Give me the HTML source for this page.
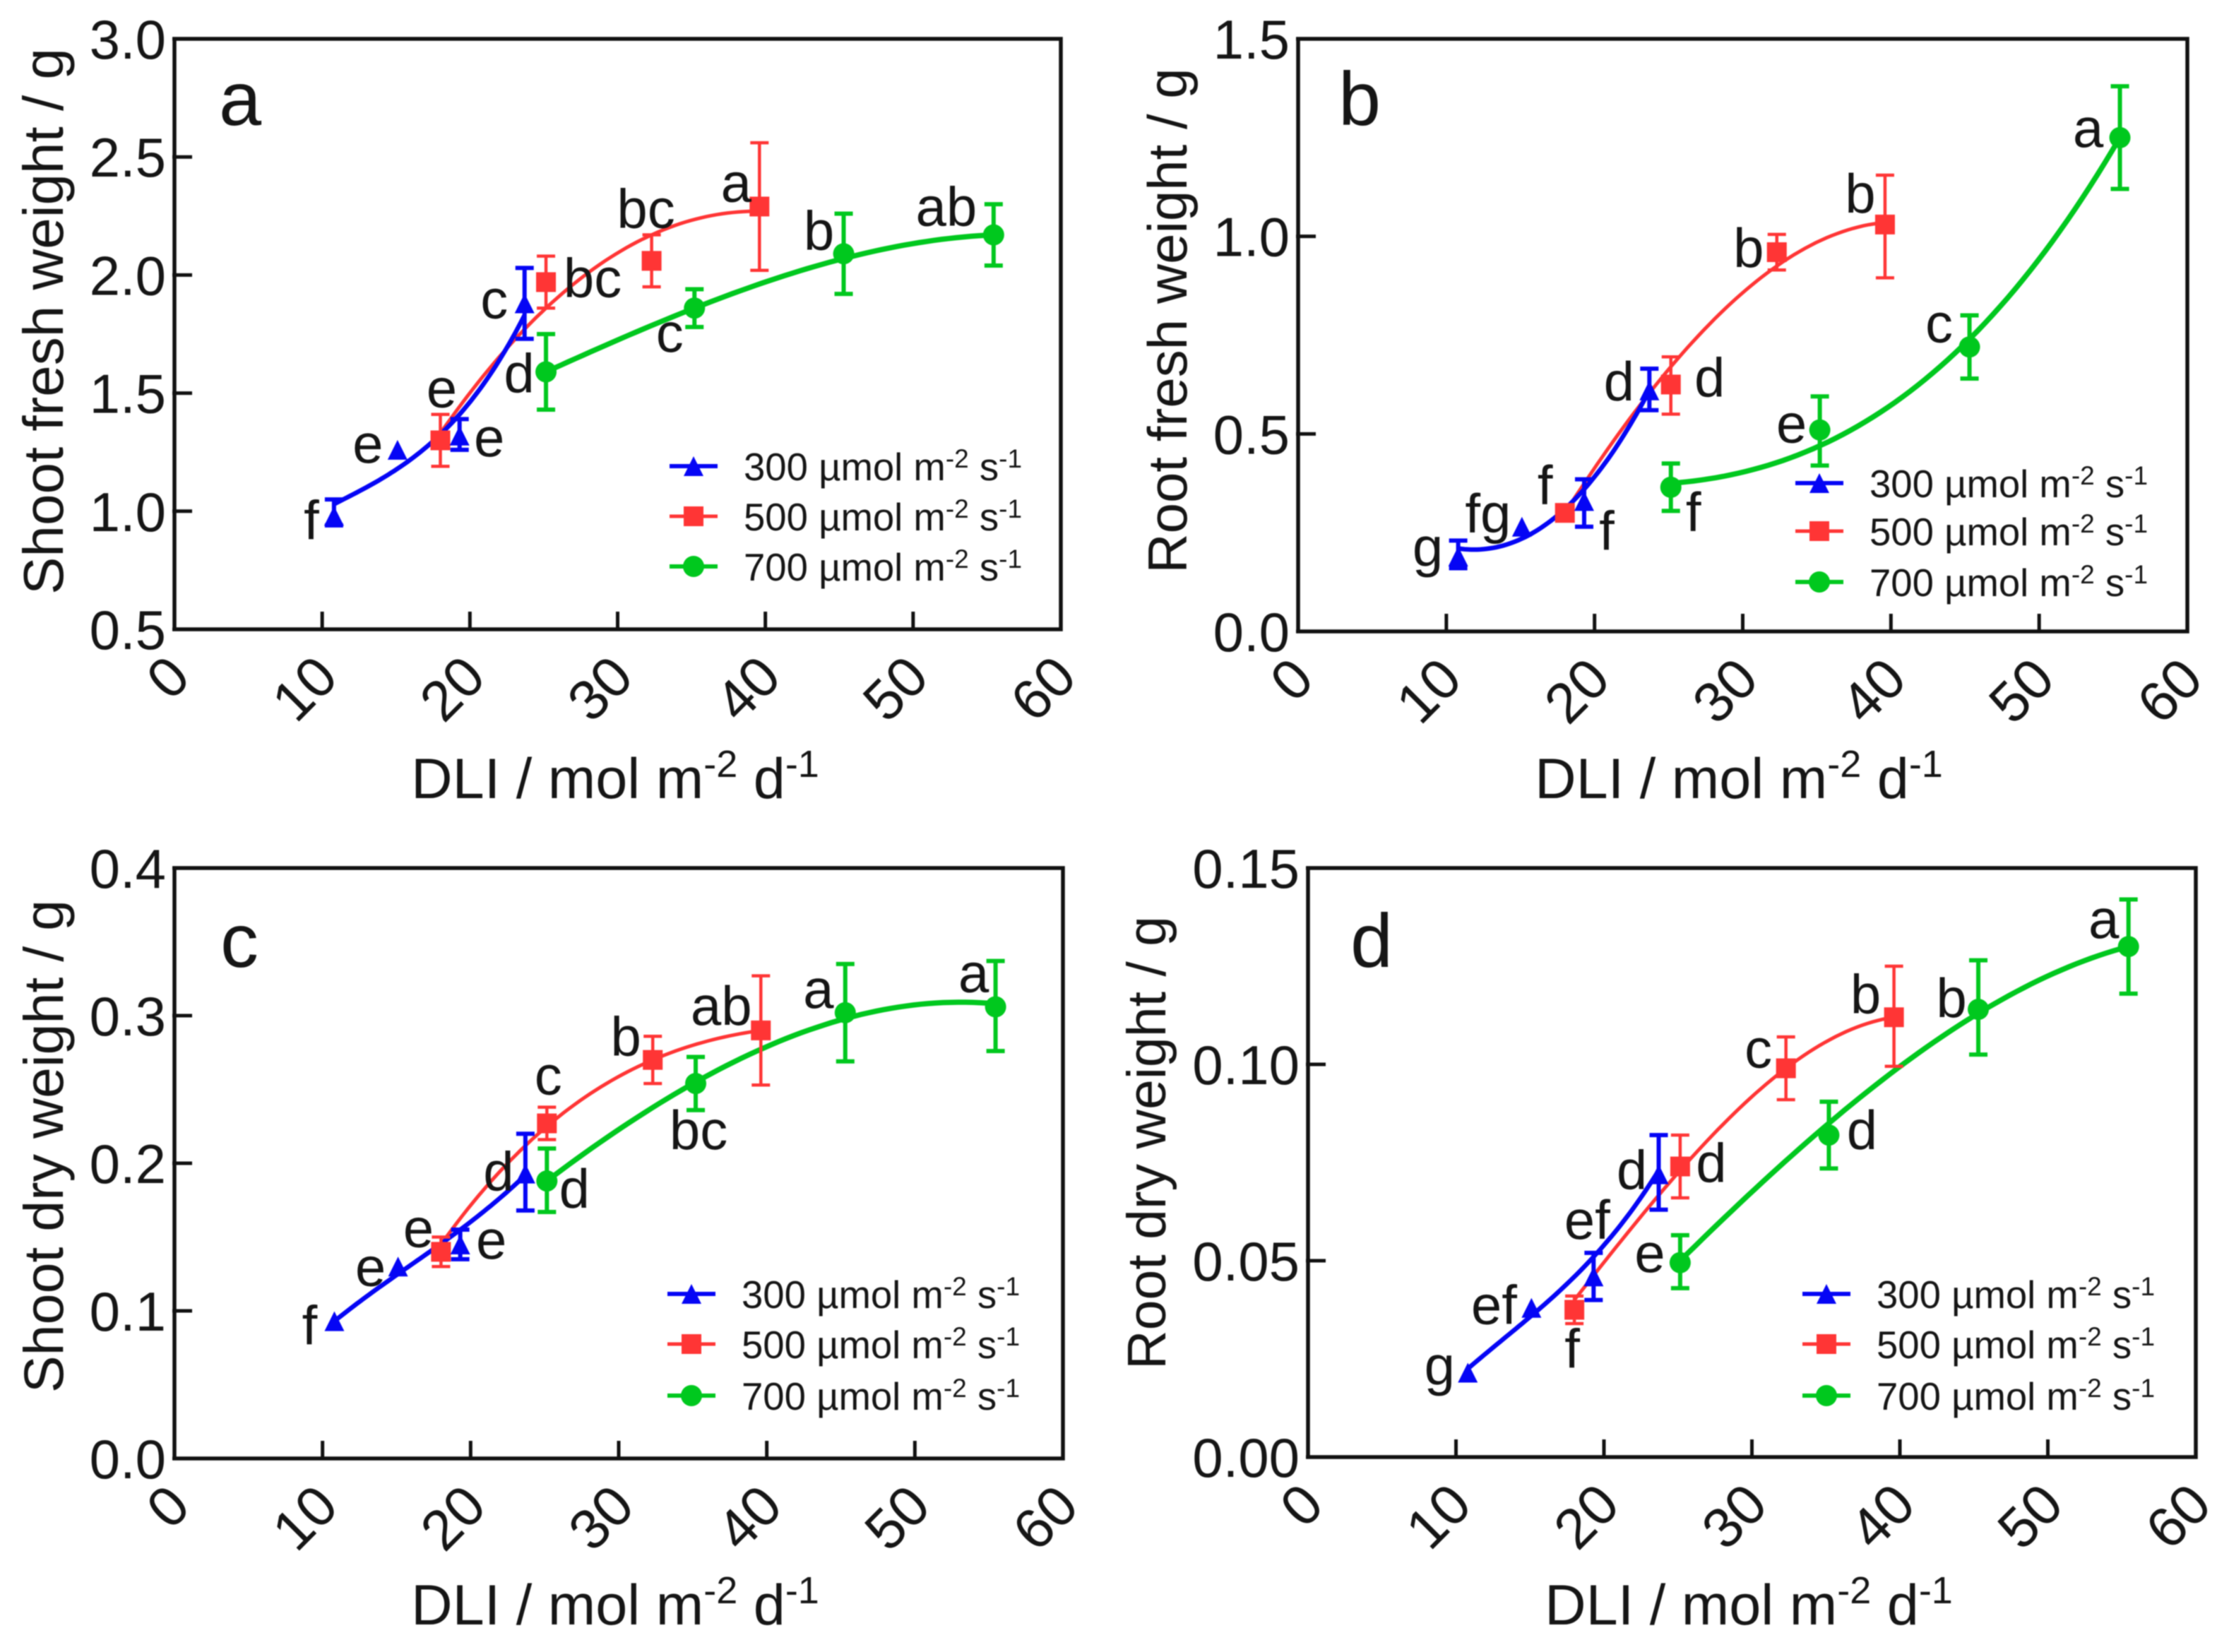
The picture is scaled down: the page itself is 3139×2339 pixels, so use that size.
<!DOCTYPE html>
<html lang="en">
<head>
<meta charset="utf-8">
<title>Fresh and dry weight versus DLI</title>
<style>
html,body{margin:0;padding:0;background:#fff;}
#figure{display:block;width:3139px;height:2339px;filter:blur(0.9px);}
text{font-family:"Liberation Sans",sans-serif;fill:#151515;}
</style>
</head>
<body>
<svg id="figure" xmlns="http://www.w3.org/2000/svg" width="3139" height="2339" viewBox="0 0 3139 2339"></svg>
<script>
// ---------- shared data ----------
const dli300 = [10.8, 15.1, 19.3, 23.7];
const dli500 = [18.0, 25.15, 32.3, 39.6];
const dli700 = [25.15, 35.2, 45.3, 55.45];
const xTickLabels = [0, 10, 20, 30, 40, 50, 60];
const seriesNames = ['300', '500', '700'];

// ---------- panel a: shoot fresh weight ----------
const aYTicks = ['0.5', '1.0', '1.5', '2.0', '2.5', '3.0'];
const a300 = [0.98, 1.26, 1.32, 1.88];
const a300High = [1.05, 1.26, 1.39, 2.03];
const a300Low = [0.94, 1.26, 1.26, 1.73];
const a300Fit = [1.03, 1.18, 1.41, 1.83];
const a300Letters = ['f', 'e', 'e', 'c'];
const a500 = [1.30, 1.97, 2.06, 2.29];
const a500High = [1.41, 2.08, 2.17, 2.56];
const a500Low = [1.19, 1.86, 1.95, 2.02];
const a500Fit = [1.33, 1.86, 2.17, 2.27];
const a500Letters = ['e', 'bc', 'bc', 'a'];
const a700 = [1.59, 1.86, 2.09, 2.17];
const a700High = [1.75, 1.94, 2.26, 2.30];
const a700Low = [1.43, 1.78, 1.92, 2.04];
const a700Fit = [1.59, 1.86, 2.07, 2.17];
const a700Letters = ['d', 'c', 'b', 'ab'];

// ---------- panel b: root fresh weight ----------
const bYTicks = ['0.0', '0.5', '1.0', '1.5'];
const b300 = [0.19, 0.265, 0.33, 0.61];
const b300High = [0.23, 0.265, 0.385, 0.665];
const b300Low = [0.16, 0.265, 0.265, 0.56];
const b300Fit = [0.21, 0.235, 0.36, 0.61];
const b300Letters = ['g', 'fg', 'f', 'd'];
const b500 = [0.30, 0.625, 0.96, 1.03];
const b500High = [0.32, 0.695, 1.005, 1.155];
const b500Low = [0.28, 0.55, 0.915, 0.895];
const b500Fit = [0.30, 0.67, 0.925, 1.035];
const b500Letters = ['f', 'd', 'b', 'b'];
const b700 = [0.365, 0.51, 0.72, 1.25];
const b700High = [0.425, 0.595, 0.80, 1.38];
const b700Low = [0.305, 0.42, 0.64, 1.12];
const b700Fit = [0.375, 0.47, 0.74, 1.25];
const b700Letters = ['f', 'e', 'c', 'a'];

// ---------- panel c: shoot dry weight ----------
const cYTicks = ['0.0', '0.1', '0.2', '0.3', '0.4'];
const c300 = [0.093, 0.13, 0.145, 0.193];
const c300High = [0.093, 0.13, 0.155, 0.22];
const c300Low = [0.093, 0.13, 0.135, 0.168];
const c300Fit = [0.093, 0.125, 0.155, 0.192];
const c300Letters = ['f', 'e', 'e', 'd'];
const c500 = [0.14, 0.227, 0.27, 0.29];
const c500High = [0.15, 0.238, 0.286, 0.327];
const c500Low = [0.13, 0.216, 0.254, 0.253];
const c500Fit = [0.145, 0.225, 0.27, 0.29];
const c500Letters = ['e', 'c', 'b', 'ab'];
const c700 = [0.188, 0.254, 0.302, 0.306];
const c700High = [0.21, 0.272, 0.335, 0.337];
const c700Low = [0.167, 0.236, 0.269, 0.276];
const c700Fit = [0.188, 0.255, 0.298, 0.308];
const c700Letters = ['d', 'bc', 'a', 'a'];

// ---------- panel d: root dry weight ----------
const dYTicks = ['0.00', '0.05', '0.10', '0.15'];
const d300 = [0.0215, 0.038, 0.046, 0.072];
const d300High = [0.0215, 0.038, 0.052, 0.082];
const d300Low = [0.0215, 0.038, 0.040, 0.063];
const d300Fit = [0.0225, 0.036, 0.051, 0.073];
const d300Letters = ['g', 'ef', 'ef', 'd'];
const d500 = [0.0375, 0.074, 0.099, 0.112];
const d500High = [0.041, 0.082, 0.107, 0.125];
const d500Low = [0.034, 0.066, 0.091, 0.0995];
const d500Fit = [0.04, 0.073, 0.099, 0.112];
const d500Letters = ['f', 'd', 'c', 'b'];
const d700 = [0.0495, 0.082, 0.114, 0.13];
const d700High = [0.0565, 0.0905, 0.1265, 0.142];
const d700Low = [0.043, 0.0735, 0.1025, 0.118];
const d700Fit = [0.05, 0.085, 0.113, 0.13];
const d700Letters = ['e', 'd', 'b', 'a'];

// ---------- layout (not data) ----------
const colors = {'300': '#0505f5', '500': '#ff3535', '700': '#00c81e'};
const panels = [
  {id: 'a', l: 247, r: 1502, t: 55, b: 891, yMin: 0.5, yMax: 3.0, ticks: aYTicks, yTitle: 'Shoot fresh weight / g',
   titleX: 89, titleY: 455, titleSize: 80, xTitleX: 871, xTitleY: 1130, letterX: 340, letterY: 177, legX: 948, legY: [660, 731, 802],
   series: {'300': [dli300, a300, a300High, a300Low, a300Fit, a300Letters], '500': [dli500, a500, a500High, a500Low, a500Fit, a500Letters], '700': [dli700, a700, a700High, a700Low, a700Fit, a700Letters]},
   offs: {'300': [[-34, 30], [-44, 15], [40, 26], [-45, 18]], '500': [[0, -50], [64, 18], [-10, -50], [-35, -10]], '700': [[-40, 26], [-37, 59], [-37, -9], [-69, -16]]}},
  {id: 'b', l: 1838, r: 3097, t: 55, b: 894, yMin: 0, yMax: 1.5, ticks: bYTicks, yTitle: 'Root fresh weight / g',
   titleX: 1680, titleY: 454, titleSize: 78, xTitleX: 2462, xTitleY: 1130, letterX: 1925, letterY: 177, legX: 2542, legY: [684, 752, 824],
   series: {'300': [dli300, b300, b300High, b300Low, b300Fit, b300Letters], '500': [dli500, b500, b500High, b500Low, b500Fit, b500Letters], '700': [dli700, b700, b700High, b700Low, b700Fit, b700Letters]},
   offs: {'300': [[-45, 11], [-50, 5], [30, 66], [-45, 11]], '500': [[-30, -15], [53, 14], [-42, 18], [-37, -20]], '700': [[30, 59], [-42, 15], [-45, -10], [-47, 10]]}},
  {id: 'c', l: 247, r: 1505, t: 1229, b: 2065, yMin: 0, yMax: 0.4, ticks: cYTicks, yTitle: 'Shoot dry weight / g',
   titleX: 89, titleY: 1623, titleSize: 79, xTitleX: 871, xTitleY: 2300, letterX: 339, letterY: 1369, legX: 945, legY: [1832, 1903, 1976],
   series: {'300': [dli300, c300, c300High, c300Low, c300Fit, c300Letters], '500': [dli500, c500, c500High, c500Low, c500Fit, c500Letters], '700': [dli700, c700, c700High, c700Low, c700Fit, c700Letters]},
   offs: {'300': [[-37, 30], [-41, 24], [42, 17], [-40, 21]], '500': [[-34, -10], [0, -44], [-40, -9], [-58, -11]], '700': [[37, 35], [2, 90], [-40, -10], [-33, -24]]}},
  {id: 'd', l: 1852, r: 3109, t: 1229, b: 2063, yMin: 0, yMax: 0.15, ticks: dYTicks, yTitle: 'Root dry weight / g',
   titleX: 1650, titleY: 1618, titleSize: 77, xTitleX: 2476, xTitleY: 2300, letterX: 1942, letterY: 1369, legX: 2552, legY: [1832, 1903, 1976],
   series: {'300': [dli300, d300, d300High, d300Low, d300Fit, d300Letters], '500': [dli500, d500, d500High, d500Low, d500Fit, d500Letters], '700': [dli700, d700, d700High, d700Low, d700Fit, d700Letters]},
   offs: {'300': [[-42, 14], [-55, 20], [-11, -56], [-40, 18]], '500': [[-5, 79], [42, 19], [-41, -4], [-42, -9]], '700': [[-45, 10], [45, 17], [-40, 8], [-37, -15]]}}
];

const NS = 'http://www.w3.org/2000/svg';
const root = document.getElementById('figure');

function mk(tag, parent, attrs) {
  const n = document.createElementNS(NS, tag);
  for (const k in attrs) n.setAttribute(k, attrs[k]);
  parent.appendChild(n);
  return n;
}
function addSup(textEl, text, size, up) {
  const s = mk('tspan', textEl, {'font-size': size, dy: -up});
  s.textContent = text;
  const after = mk('tspan', textEl, {dy: up});
  after.textContent = '\u200b';
}
function addPlain(textEl, text) {
  const s = mk('tspan', textEl, {});
  s.textContent = text;
}
// Cubic through the four fitted values
function cubicAt(xs, ys, x) {
  let total = 0;
  for (let i = 0; i < xs.length; i++) {
    let w = 1;
    for (let j = 0; j < xs.length; j++) {
      if (j !== i) w *= (x - xs[j]) / (xs[i] - xs[j]);
    }
    total += w * ys[i];
  }
  return total;
}
function drawMarker(parent, name, cx, cy, scale) {
  const c = colors[name];
  const k = scale || 1;
  let m;
  if (name === '300') {
    const w = 14 * k, h = 14 * k;
    m = mk('polygon', parent, {points: (cx) + ',' + (cy - h) + ' ' + (cx + w) + ',' + (cy + h) + ' ' + (cx - w) + ',' + (cy + h), fill: c});
  } else if (name === '500') {
    const s = 14 * k;
    m = mk('rect', parent, {x: cx - s, y: cy - s, width: 2 * s, height: 2 * s, fill: c});
  } else {
    m = mk('circle', parent, {cx: cx, cy: cy, r: 15 * k, fill: c});
  }
  return m;
}

panels.forEach(function (p) {
  const X = function (v) { return p.l + v / 60 * (p.r - p.l); };
  const Y = function (v) { return p.b - (v - p.yMin) / (p.yMax - p.yMin) * (p.b - p.t); };

  const g = mk('g', root, {});
  
  

  // fit curves
  ['500', '300', '700'].forEach(function (name) {
    const s = p.series[name];
    const xs = s[0], fit = s[4];
    let d = '';
    const n = 60;
    for (let i = 0; i <= n; i++) {
      const x = xs[0] + (xs[3] - xs[0]) * i / n;
      d += (i ? 'L' : 'M') + X(x).toFixed(1) + ' ' + Y(cubicAt(xs, fit, x)).toFixed(1);
    }
    const line = mk('path', g, {d: d, fill: 'none', stroke: colors[name], 'stroke-width': name === '500' ? 5 : (name === '700' ? 7.5 : 6.5)});
    
    
  });

  // error bars and markers
  ['500', '300', '700'].forEach(function (name) {
    const s = p.series[name];
    const xs = s[0], vals = s[1], hi = s[2], lo = s[3];
    xs.forEach(function (x, i) {
      const px = X(x);
      if (hi[i] !== lo[i]) {
        const bar = mk('path', g, {
          d: 'M' + px + ' ' + Y(hi[i]) + 'V' + Y(lo[i]) + 'M' + (px - 13) + ' ' + Y(hi[i]) + 'H' + (px + 13) + 'M' + (px - 13) + ' ' + Y(lo[i]) + 'H' + (px + 13),
          fill: 'none', stroke: colors[name], 'stroke-width': name === '500' ? 4.5 : 6
        });
        
        
      }
      const mark = drawMarker(g, name, px, Y(vals[i]));
      
      
    });
  });

  // frame
  const frame = mk('rect', g, {x: p.l, y: p.t, width: p.r - p.l, height: p.b - p.t, fill: 'none', stroke: '#111', 'stroke-width': 5.5});
  
  

  // x ticks
  xTickLabels.forEach(function (v) {
    const px = X(v);
    const tick = mk('line', g, {x1: px, x2: px, y1: p.b, y2: p.b - 25, stroke: '#111', 'stroke-width': 5});
    
    
    const ax = px + 6, ay = p.b + 52;
    const lab = mk('text', g, {x: ax, y: ay, 'font-size': 80, 'text-anchor': 'end', dy: '0.35em', transform: 'rotate(-45 ' + ax + ' ' + ay + ')'});
    
    
    lab.textContent = String(v);
  });

  // y ticks
  p.ticks.forEach(function (t) {
    const py = Y(parseFloat(t));
    const tick = mk('line', g, {x1: p.l - 3, x2: p.l + 25, y1: py, y2: py, stroke: '#111', 'stroke-width': 5});
    
    
    const lab = mk('text', g, {x: p.l - 12, y: py + 28, 'font-size': 78, 'text-anchor': 'end'});
    
    
    lab.textContent = t;
  });

  // y axis title
  const yt = mk('text', g, {x: p.titleX, y: p.titleY, 'font-size': p.titleSize, 'text-anchor': 'middle', transform: 'rotate(-90 ' + p.titleX + ' ' + p.titleY + ')'});
  
  
  yt.textContent = p.yTitle;

  // x axis title
  const xt = mk('text', g, {x: p.xTitleX, y: p.xTitleY, 'font-size': 81, 'text-anchor': 'middle'});
  
  
  addPlain(xt, 'DLI / mol m');
  addSup(xt, '-2', 54, 30);
  addPlain(xt, ' d');
  addSup(xt, '-1', 54, 30);

  // panel letter
  const pl = mk('text', g, {x: p.letterX, y: p.letterY, 'font-size': 108, 'text-anchor': 'middle'});
  
  
  pl.textContent = p.id;

  // significance letters
  seriesNames.forEach(function (name) {
    const s = p.series[name];
    s[5].forEach(function (letter, i) {
      const off = p.offs[name][i];
      const t = mk('text', g, {x: X(s[0][i]) + off[0] + 2, y: Y(s[1][i]) + off[1] + 3, 'font-size': 78, 'text-anchor': 'middle'});
      
      
      t.textContent = letter;
    });
  });

  // legend
  const leg = mk('g', g, {});
  
  
  seriesNames.forEach(function (name, i) {
    const ly = p.legY[i];
    const entry = mk('g', leg, {});
    
    
    mk('line', entry, {x1: p.legX, x2: p.legX + 68, y1: ly, y2: ly, stroke: colors[name], 'stroke-width': name === '500' ? 5 : 6});
    drawMarker(entry, name, p.legX + 34, ly, 1);
    const lt = mk('text', entry, {x: p.legX + 105, y: ly + 20, 'font-size': 54.5, fill: '#222'});
    addPlain(lt, name + ' \u00b5mol m');
    addSup(lt, '-2', 37, 18);
    addPlain(lt, ' s');
    addSup(lt, '-1', 37, 18);
  });
});
</script>
</body>
</html>
